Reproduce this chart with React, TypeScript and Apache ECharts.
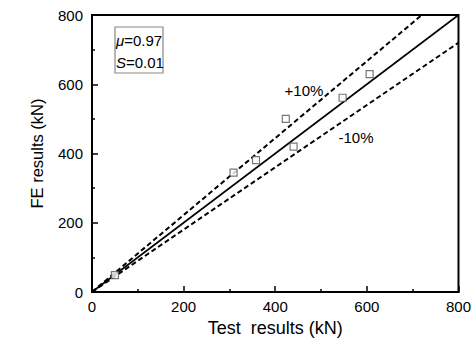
import React, { useEffect, useRef } from "react";
import * as echarts from "echarts";

const testResults = [50, 309, 358, 423, 440, 547, 606];
const feResults = [49, 345, 381, 500, 420, 561, 629];
const equalLine = [[0, 0], [800, 800]];
const upperLine = [[0, 0], [720, 800]];
const lowerLine = [[0, 0], [800, 720]];
const axisTicks = { min: 0, max: 800, interval: 200 };

const FONT = "'Liberation Sans', Arial, sans-serif";

export default function App() {
  const ref = useRef<HTMLDivElement>(null);
  useEffect(() => {
    document.body.style.margin = "0";
    const chart = echarts.init(ref.current!, null, { renderer: "svg" });
    const axisCommon = {
      type: "value",
      min: axisTicks.min,
      max: axisTicks.max,
      interval: axisTicks.interval,
      nameLocation: "middle",
      axisLine: { show: true, lineStyle: { color: "#000", width: 2 } },
      axisTick: { show: true, inside: true, length: 6, lineStyle: { color: "#000", width: 1.5 } },
      minorTick: { show: true, splitNumber: 2, length: 3, lineStyle: { color: "#000", width: 1.5 } },
      splitLine: { show: false },
      axisLabel: { fontFamily: FONT, fontSize: 15, color: "#000" },
    };
    chart.setOption({
      animation: false,
      backgroundColor: "#fff",
      grid: {
        left: 92,
        right: 11,
        top: 15,
        bottom: 53,
        show: true,
        borderColor: "#000",
        borderWidth: 2,
      },
      xAxis: {
        ...axisCommon,
        name: "Test  results (kN)",
        nameGap: 25,
        nameTextStyle: { fontFamily: FONT, fontSize: 18, color: "#000" },
        axisLabel: { ...axisCommon.axisLabel, margin: 7 },
      },
      yAxis: {
        ...axisCommon,
        name: "FE results (kN)",
        nameGap: 47,
        nameTextStyle: { fontFamily: FONT, fontSize: 16.5, color: "#000" },
        axisLabel: { ...axisCommon.axisLabel, margin: 9 },
      },
      series: [
        {
          type: "line",
          data: equalLine,
          showSymbol: false,
          lineStyle: { color: "#000", width: 1.6 },
          z: 2,
        },
        {
          type: "line",
          data: upperLine,
          showSymbol: false,
          lineStyle: { color: "#000", width: 2, type: [5, 3] },
          z: 2,
        },
        {
          type: "line",
          data: lowerLine,
          showSymbol: false,
          lineStyle: { color: "#000", width: 2, type: [5, 3] },
          z: 2,
        },
        {
          type: "scatter",
          data: testResults.map((x, i) => [x, feResults[i]]),
          symbol: "rect",
          symbolSize: 7,
          itemStyle: { color: "#fff", borderColor: "#555", borderWidth: 1.2 },
          z: 3,
        },
      ],
      graphic: [
        {
          type: "rect",
          shape: { x: 115, y: 27, width: 48, height: 46 },
          style: { fill: "#fff", stroke: "#888", lineWidth: 1.2 },
          z: 10,
        },
        {
          type: "text",
          x: 116,
          y: 40,
          style: {
            text: "{i|μ}=0.97",
            fontFamily: FONT,
            fontSize: 15,
            fill: "#000",
            verticalAlign: "middle",
            rich: { i: { fontStyle: "italic", fontFamily: FONT, fontSize: 15, fill: "#000" } },
          },
          z: 11,
        },
        {
          type: "text",
          x: 116,
          y: 62,
          style: {
            text: "{i|S}=0.01",
            fontFamily: FONT,
            fontSize: 15,
            fill: "#000",
            verticalAlign: "middle",
            rich: { i: { fontStyle: "italic", fontFamily: FONT, fontSize: 15, fill: "#000" } },
          },
          z: 11,
        },
        {
          type: "text",
          x: 304,
          y: 90,
          style: { text: "+10%", fontFamily: FONT, fontSize: 15, fill: "#000", align: "center", verticalAlign: "middle" },
          z: 11,
        },
        {
          type: "text",
          x: 356,
          y: 137,
          style: { text: "-10%", fontFamily: FONT, fontSize: 15, fill: "#000", align: "center", verticalAlign: "middle" },
          z: 11,
        },
      ],
    });
    return () => chart.dispose();
  }, []);
  return <div ref={ref} style={{ position: "fixed", left: 0, top: 0, width: 474, height: 345 }} />;
}
